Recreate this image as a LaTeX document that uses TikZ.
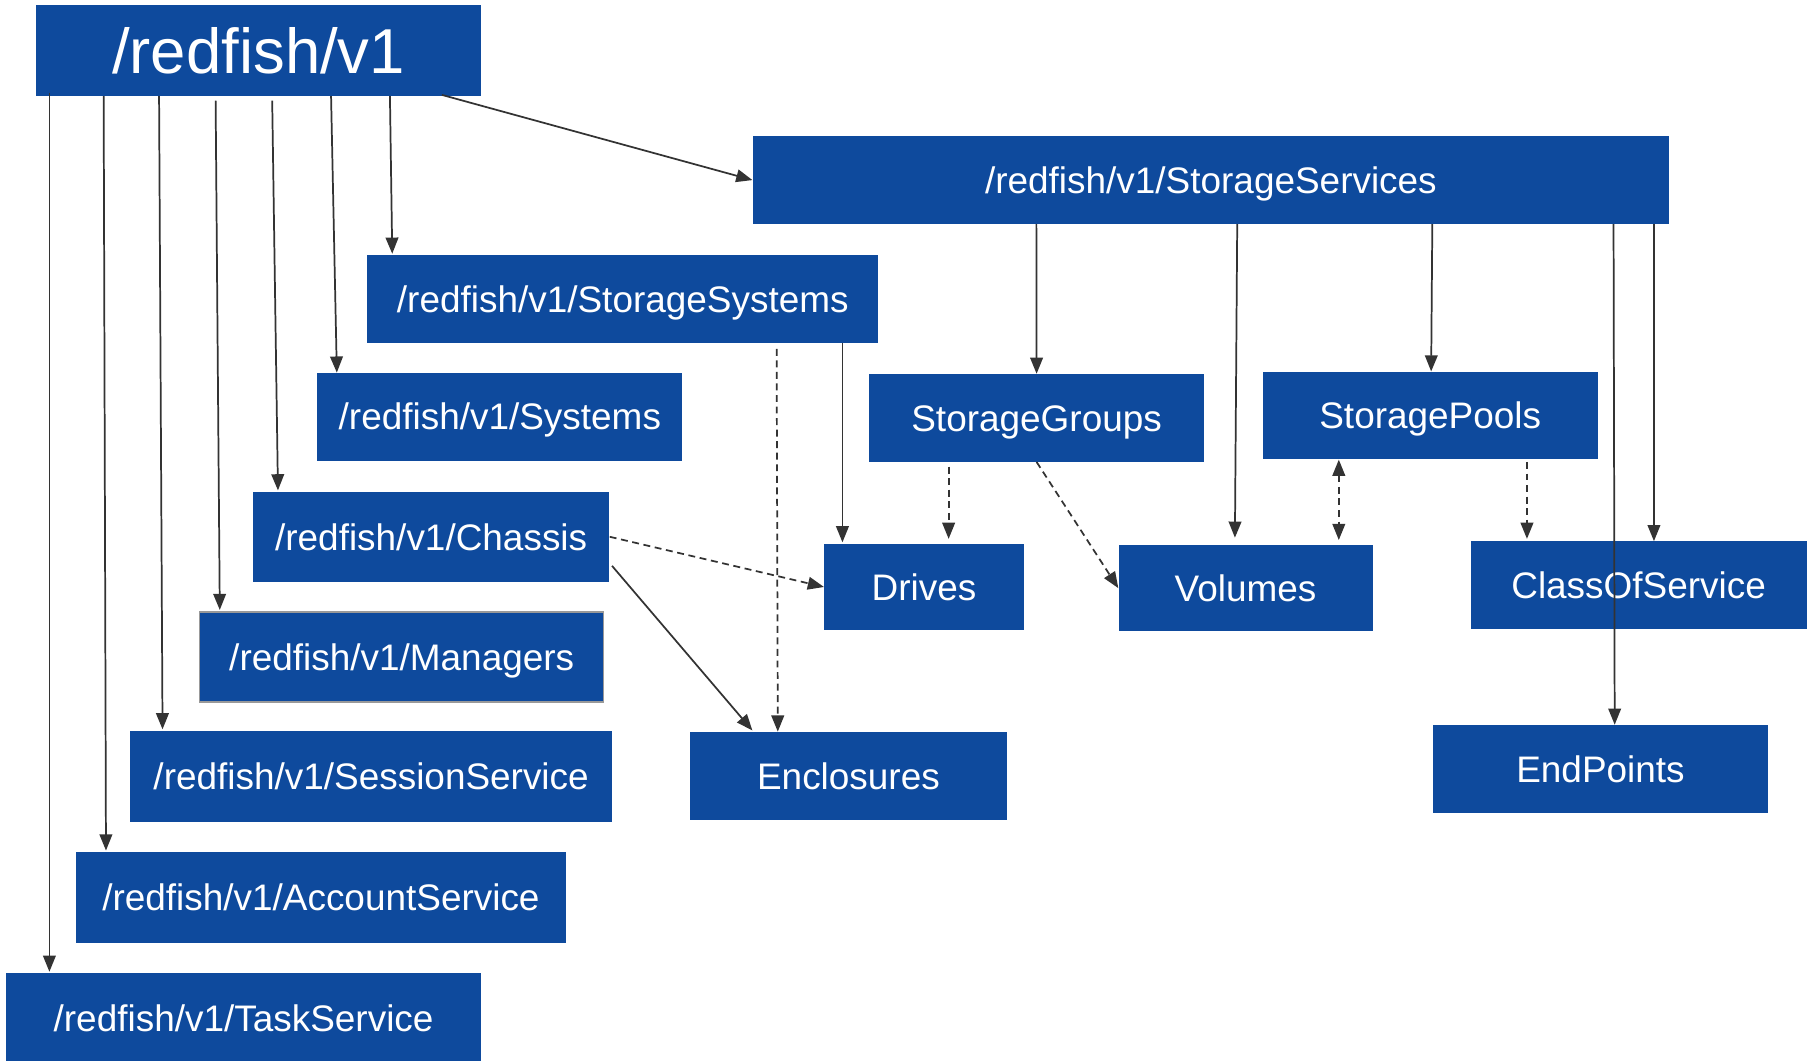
\documentclass[tikz,border=0pt]{standalone}
\usepackage{fontspec}
\setmainfont{Liberation Sans}
\usetikzlibrary{arrows.meta,calc}
\definecolor{boxblue}{RGB}{14,74,157}
\definecolor{linegray}{RGB}{51,51,51}
\begin{document}
\begin{tikzpicture}[x=1pt,y=-1pt,
  box/.style={fill=boxblue,text=white,inner sep=0pt,anchor=center,
    font=\fontsize{32}{36}\selectfont,text height=23pt,text depth=-5.5pt},
  bigbox/.style={box,font=\fontsize{55}{60}\selectfont,text height=40pt,text depth=-4pt},
  arr/.style={draw=linegray,line width=1.5pt,-{Triangle[length=14pt,width=11pt]}},
  darr/.style={arr,dash pattern=on 6pt off 4pt},
  ddarr/.style={darr,{Triangle[length=14pt,width=11pt]}-{Triangle[length=14pt,width=11pt]}}]
\useasboundingbox (0,0) rectangle (1568,919);
% boxes
\node[bigbox,minimum width=386pt,minimum height=79pt] (root) at (224,43.5) {/redfish/v1};
\node[box,minimum width=794pt,minimum height=76pt] (ss) at (1049,156) {/redfish/v1/StorageServices};
\node[box,minimum width=443pt,minimum height=76pt] (ssys) at (539.5,259) {/redfish/v1/StorageSystems};
\node[box,minimum width=316pt,minimum height=76pt] (sys) at (433,361) {/redfish/v1/Systems};
\node[box,minimum width=309pt,minimum height=78pt] (chassis) at (373.5,465) {/redfish/v1/Chassis};
\node[box,minimum width=350pt,minimum height=78pt,draw=gray!80,line width=1.2pt] (managers) at (348,569) {/redfish/v1/Managers};
\node[box,minimum width=417pt,minimum height=79pt] (session) at (321.5,672.5) {/redfish/v1/SessionService};
\node[box,minimum width=424pt,minimum height=79pt] (account) at (278,777.5) {/redfish/v1/AccountService};
\node[box,minimum width=412pt,minimum height=78pt] (task) at (211,882) {/redfish/v1/TaskService};
\node[box,minimum width=290pt,minimum height=76pt] (sg) at (898,362) {StorageGroups};
\node[box,minimum width=290pt,minimum height=76pt] (sp) at (1239,360) {StoragePools};
\node[box,minimum width=173pt,minimum height=75pt] (drives) at (800.5,508.5) {Drives};
\node[box,minimum width=220pt,minimum height=75pt] (volumes) at (1079,509.5) {Volumes};
\node[box,minimum width=291pt,minimum height=76pt] (cos) at (1419.5,507) {ClassOfService};
\node[box,minimum width=274pt,minimum height=76pt] (encl) at (735,672) {Enclosures};
\node[box,minimum width=291pt,minimum height=76pt] (endp) at (1386.5,666) {EndPoints};
% root connectors
\draw[arr] ([xshift=12pt,yshift=3pt]root.south west) -- ([xshift=38pt,yshift=1pt]task.north west);
\draw[arr] ([xshift=59pt]root.south west) -- ([xshift=26pt,yshift=1pt]account.north west);
\draw[arr] ([xshift=107pt]root.south west) -- ([xshift=28pt,yshift=1pt]session.north west);
\draw[arr] ([xshift=156pt,yshift=-4pt]root.south west) -- ([xshift=18pt,yshift=1pt]managers.north west);
\draw[arr] ([xshift=205pt,yshift=-4pt]root.south west) -- ([xshift=22pt,yshift=1pt]chassis.north west);
\draw[arr] ([xshift=256pt]root.south west) -- ([xshift=17pt]sys.north west);
\draw[arr] ([xshift=307pt]root.south west) -- ([xshift=22pt,yshift=1pt]ssys.north west);
\draw[arr] ([xshift=352pt,yshift=1pt]root.south west) -- (ss.west);
% storage services connectors
\draw[arr] ([xshift=246pt]ss.south west) -- (sg.north);
\draw[arr] ([xshift=420pt]ss.south west) -- ([xshift=101pt,yshift=6pt]volumes.north west);
\draw[arr] ([xshift=589pt]ss.south west) -- ([xshift=146pt]sp.north west);
\draw[arr] ([xshift=746pt]ss.south west) -- ([xshift=158pt]endp.north west);
\draw[arr] ([xshift=781pt]ss.south west) -- ([xshift=159pt]cos.north west);
% storage systems / chassis
\draw[arr] ([xshift=412pt]ssys.south west) -- ([xshift=16pt,yshift=1pt]drives.north west);
\draw[darr] ([xshift=355pt,yshift=-5pt]ssys.south west) -- ([xshift=76pt]encl.north west);
\draw[darr] (chassis.east) -- (drives.west);
\draw[arr] ([xshift=2pt,yshift=14pt]chassis.south east) -- ([xshift=54pt,yshift=1pt]encl.north west);
% groups / pools
\draw[darr] ([xshift=69pt,yshift=-4pt]sg.south west) -- ([xshift=108pt,yshift=4pt]drives.north west);
\draw[darr] (sg.south) -- (volumes.west);
\draw[ddarr] ([xshift=66pt]sp.south west) -- ([xshift=191pt,yshift=4pt]volumes.north west);
\draw[darr] ([xshift=229pt,yshift=-2pt]sp.south west) -- ([xshift=49pt,yshift=2pt]cos.north west);
\end{tikzpicture}
\end{document}
